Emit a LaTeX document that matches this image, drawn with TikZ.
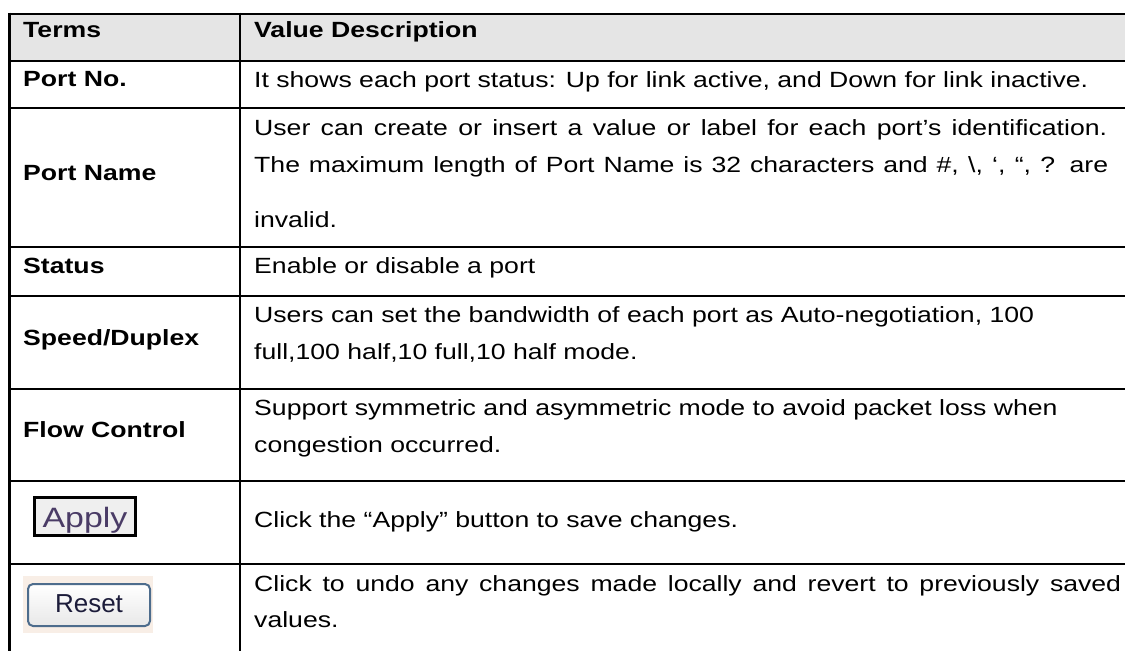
\documentclass[tikz,border=0pt]{standalone}
\usepackage{fontspec}
\setmainfont{Liberation Sans}[FakeStretch=1.21]
\newfontfamily\btnfont{Liberation Sans}
\definecolor{headgray}{HTML}{E5E5E5}
\definecolor{applyface}{HTML}{EFEFEF}
\definecolor{applyink}{HTML}{4A3C66}
\definecolor{resetbg}{HTML}{F8EEE6}
\definecolor{resetedge}{HTML}{4D6C8C}
\definecolor{resetink}{HTML}{1C1C3A}
\begin{document}
\begin{tikzpicture}[x=1pt,y=-1pt,
  rule/.style={line width=2.6pt, black},
  vrule/.style={line width=2.4pt, black},
  term/.style={anchor=base west, inner sep=0pt, font=\fontsize{22}{26}\selectfont\bfseries},
  desc/.style={anchor=base west, inner sep=0pt, font=\fontsize{22}{26}\selectfont},
]
\useasboundingbox (0,0) rectangle (1125,651);

% header band
\fill[headgray] (9.5,14) rectangle (1125,61);

% horizontal rules
\foreach \yy in {14,61,108,247,296,389,481,564}
  \draw[rule] (8.3,\yy) -- (1125,\yy);
% vertical rules
\draw[vrule] (9.5,12.7) -- (9.5,651);
\draw[vrule] (240,12.7) -- (240,651);

% header
\node[term] (hterm) at (23,37) {Terms};
\node[term] (hdesc) at (254,37) {Value Description};

% Port No.
\node[term] (t1) at (23,86) {Port No.};
\node[desc] (d1) at (254,87) {It shows each port status: Up for link active, and Down for link inactive.};

% Port Name
\node[term] (t2) at (23,180) {Port Name};
\node[desc] (d2a) at (254,135) {\makebox[853pt][s]{User can create or insert a value or label for each port’s identification.}};
\node[desc] (d2b) at (254,172) {\makebox[854pt][s]{The maximum length of Port Name is 32 characters and \#, \textbackslash, ‘, “, ? are}};
\node[desc] (d2c) at (254,227) {invalid.};

% Status
\node[term] (t3) at (23,273) {Status};
\node[desc] (d3) at (254,273) {Enable or disable a port};

% Speed/Duplex
\node[term] (t4) at (23,345) {Speed/Duplex};
\node[desc] (d4a) at (254,322) {Users can set the bandwidth of each port as Auto-negotiation, 100};
\node[desc] (d4b) at (254,359) {full,100 half,10 full,10 half mode.};

% Flow Control
\node[term] (t5) at (23,437) {Flow Control};
\node[desc] (d5a) at (254,415) {Support symmetric and asymmetric mode to avoid packet loss when};
\node[desc] (d5b) at (254,452) {congestion occurred.};

% Apply button
\node[draw=black, line width=3pt, fill=applyface, anchor=base, inner sep=0pt,
      minimum width=101pt, text height=29.5pt, text depth=8.5pt,
      text=applyink, font=\fontsize{28}{30}\selectfont] (apply) at (85,527) {Apply};
\node[desc] (d6) at (254,527) {Click the “Apply” button to save changes.};

% Reset button
\fill[resetbg] (23,576) rectangle (153,633);
\node[draw=resetedge, line width=2pt, rounded corners=5pt, top color=white, bottom color=black!9,
      anchor=base, inner sep=0pt, minimum width=122pt, text height=28pt, text depth=14pt,
      text=resetink, font=\btnfont\fontsize{26}{28}\selectfont] (reset) at (89,612) {Reset};
\node[desc] (d7a) at (254,591) {\makebox[867pt][s]{Click to undo any changes made locally and revert to previously saved}};
\node[desc] (d7b) at (254,627) {values.};
\end{tikzpicture}
\end{document}
